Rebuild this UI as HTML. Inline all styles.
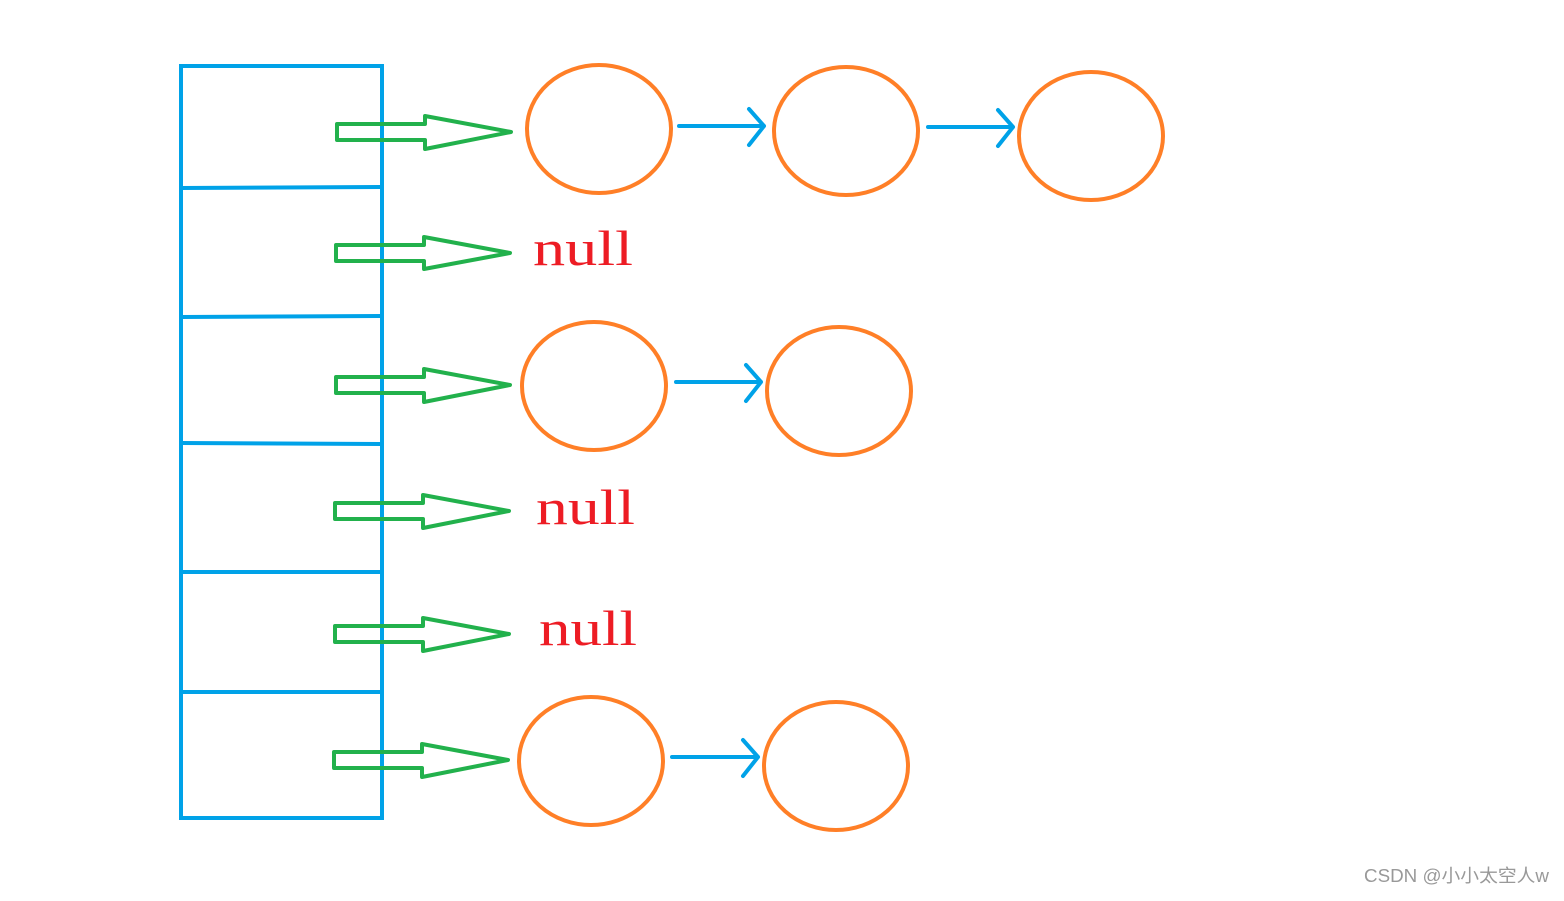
<!DOCTYPE html>
<html><head><style>html,body{margin:0;padding:0;background:#fff;}</style></head>
<body>
<svg width="1564" height="896" viewBox="0 0 1564 896" xmlns="http://www.w3.org/2000/svg">
<g fill="none" stroke="#00a2e8" stroke-width="4">
<rect x="181" y="66" width="201" height="752"/>
<line x1="181" y1="188" x2="380" y2="187"/>
<line x1="181" y1="317" x2="380" y2="316"/>
<line x1="181" y1="443" x2="380" y2="444"/>
<line x1="181" y1="572" x2="380" y2="572"/>
<line x1="181" y1="692" x2="380" y2="692"/>
</g>
<g fill="none" stroke="#22b14c" stroke-width="4" stroke-linejoin="round">
<path d="M337 124 H425 V116 L511 132 L425 149 V140 H337 Z"/>
<path d="M336 245 H424 V237 L510 253 L424 269 V261 H336 Z"/>
<path d="M336 377 H424 V369 L510 385 L424 402 V393 H336 Z"/>
<path d="M335 503 H423 V495 L509 511 L423 528 V519 H335 Z"/>
<path d="M335 626 H423 V618 L509 634 L423 651 V642 H335 Z"/>
<path d="M334 752 H422 V744 L508 760 L422 777 V768 H334 Z"/>
</g>
<g fill="none" stroke="#ff7f27" stroke-width="4">
<ellipse cx="599" cy="129" rx="72" ry="64"/>
<ellipse cx="846" cy="131" rx="72" ry="64"/>
<ellipse cx="1091" cy="136" rx="72" ry="64"/>
<ellipse cx="594" cy="386" rx="72" ry="64"/>
<ellipse cx="839" cy="391" rx="72" ry="64"/>
<ellipse cx="591" cy="761" rx="72" ry="64"/>
<ellipse cx="836" cy="766" rx="72" ry="64"/>
</g>
<g fill="none" stroke="#00a2e8" stroke-width="4" stroke-linecap="round" stroke-linejoin="round">
<path d="M679 126 H764 M749 109 L764 126 L749 145"/>
<path d="M928 127 H1013 M998 110 L1013 127 L998 146"/>
<path d="M676 382 H761 M746 365 L761 382 L746 401"/>
<path d="M672 757 H758 M743 740 L758 757 L743 776"/>
</g>
<g fill="#ed1c24" font-family="Liberation Serif, serif" font-size="50">
<text x="533" y="265" textLength="100" lengthAdjust="spacingAndGlyphs">null</text>
<text x="536" y="524" textLength="99" lengthAdjust="spacingAndGlyphs">null</text>
<text x="539" y="645" textLength="98" lengthAdjust="spacingAndGlyphs">null</text>
</g>
<text x="1364" y="882" fill="#999" font-family="Liberation Sans, 'Noto Sans CJK SC', sans-serif" font-size="18" textLength="185" lengthAdjust="spacingAndGlyphs">CSDN @小小太空人w</text>
</svg>
</body></html>
